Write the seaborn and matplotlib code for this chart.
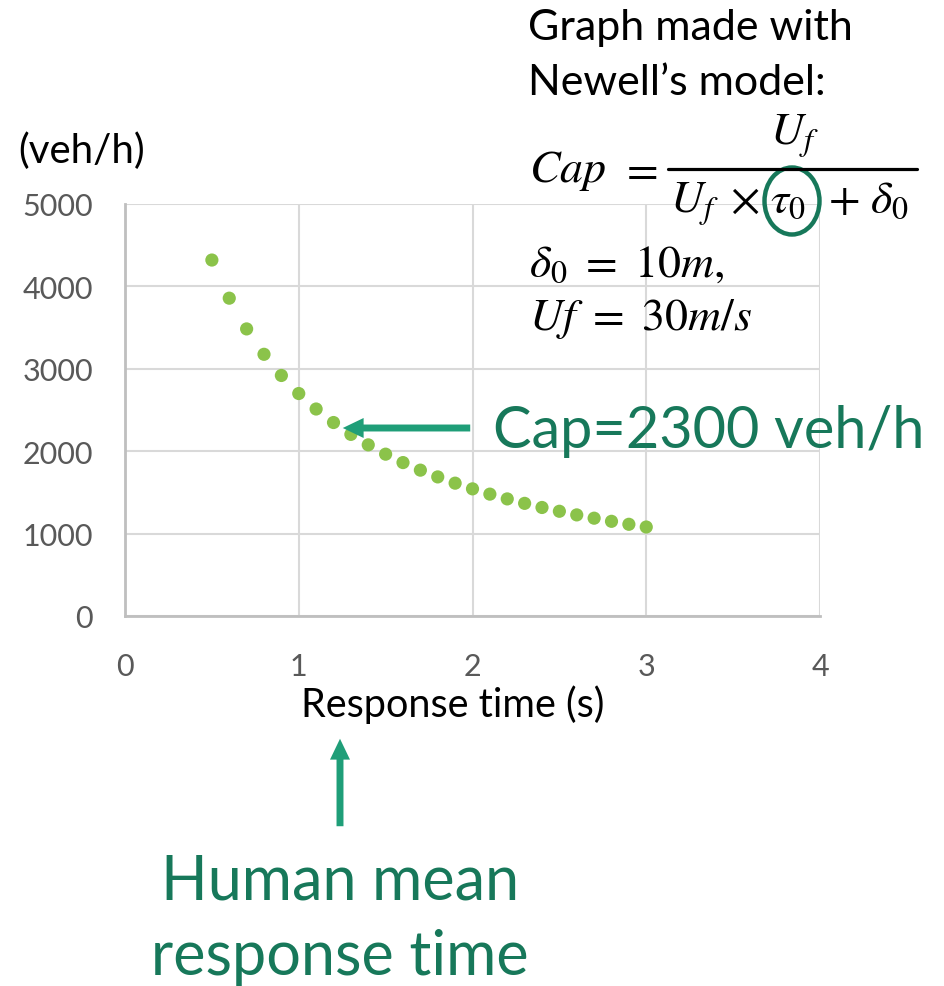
import matplotlib
matplotlib.use("Agg")
import matplotlib.pyplot as plt
import seaborn as sns
import pandas as pd
from matplotlib.patches import Ellipse, FancyArrowPatch
from matplotlib.lines import Line2D

# ---- data ----
response_time = [0.5, 0.6, 0.7, 0.8, 0.9, 1.0, 1.1, 1.2, 1.3, 1.4, 1.5, 1.6, 1.7,
                 1.8, 1.9, 2.0, 2.1, 2.2, 2.3, 2.4, 2.5, 2.6, 2.7, 2.8, 2.9, 3.0]
capacity = [4320, 3857, 3484, 3176, 2919, 2700, 2512, 2348, 2204, 2077, 1964, 1862, 1770,
            1688, 1612, 1543, 1479, 1421, 1367, 1317, 1271, 1227, 1187, 1149, 1113, 1080]
x_ticks = [0, 1, 2, 3, 4]
y_ticks = [0, 1000, 2000, 3000, 4000, 5000]

df = pd.DataFrame({"t": response_time, "cap": capacity})

sns.set_theme(style="whitegrid")
plt.rcParams['font.family'] = ['Lato', 'DejaVu Sans']
plt.rcParams['mathtext.fontset'] = 'stix'

W, H = 944, 987
fig = plt.figure(figsize=(W / 100, H / 100), dpi=100)
fig.patch.set_facecolor("white")

def fx(px):
    return px / W

def fy(py):
    return 1 - py / H

ax = fig.add_axes([fx(125), fy(617), fx(820) - fx(125), fy(205) - fy(617)])
ax.set_facecolor("white")
sns.scatterplot(data=df, x="t", y="cap", ax=ax, color="#8bc34a", s=90,
                edgecolor="none", zorder=3, clip_on=False)
ax.set_xlim(0, 4)
ax.set_ylim(0, 5000)
ax.set_xticks(x_ticks)
ax.set_yticks(y_ticks)
ax.grid(True, color="#d9d9d9", linewidth=1.5)
for s in ["top", "right"]:
    ax.spines[s].set_visible(False)
for s in ["left", "bottom"]:
    ax.spines[s].set_visible(True)
    ax.spines[s].set_color("#bfbfbf")
    ax.spines[s].set_linewidth(2)
ax.tick_params(axis="both", length=0, labelsize=22, labelcolor="#595959")
ax.tick_params(axis="x", pad=26)
ax.tick_params(axis="y", pad=23)
ax.set_xlabel("")
ax.set_ylabel("")

# axis titles
fig.text(fx(453), fy(717), "Response time (s)", ha="center", va="baseline",
         fontsize=28.5, color="black")
fig.text(fx(18), fy(163), "(veh/h)", ha="left", va="baseline",
         fontsize=29, color="black")

# model description
fig.text(fx(528), fy(40), "Graph made with", ha="left", va="baseline",
         fontsize=31, color="black")
fig.text(fx(528), fy(95), "Newell\u2019s model:", ha="left", va="baseline",
         fontsize=31, color="black")

MS = 33
def mt(x, y, s):
    fig.text(fx(x), fy(y), s, ha="left", va="baseline", fontsize=MS, color="black")

mt(529, 182, r"$Cap$")
mt(620, 182, r"$=$")
mt(770, 145, r"$U_f$")
fig.lines.append(Line2D([fx(668), fx(917)], [fy(170), fy(170)],
                        transform=fig.transFigure, color="black", linewidth=2.3))
mt(670, 213, r"$U_f$")
mt(730, 213, r"$\times$")
mt(770, 213, r"$\tau_0$")
mt(828, 213, r"$+$")
mt(870, 213, r"$\delta_0$")
mt(529, 277, r"$\delta_0\ =\ 10m,$")
mt(529, 330, r"$Uf\ =\ 30m/s$")

text_green = "#17785a"
arrow_color = "#1f9e78"

# circle around tau_0
circ = Ellipse((fx(792), fy(202)), width=fx(55), height=67 / H,
               transform=fig.transFigure, fill=False, edgecolor=text_green,
               linewidth=3.2)
fig.patches.append(circ)

# horizontal arrow to Cap point
a1 = FancyArrowPatch((fx(473), fy(429)), (fx(340), fy(429)),
                     transform=fig.transFigure,
                     arrowstyle="simple,head_length=0.75,head_width=0.72,tail_width=0.25",
                     mutation_scale=20, color=arrow_color, linewidth=0)
fig.patches.append(a1)
fig.text(fx(493), fy(448), "Cap=2300 veh/h", ha="left", va="baseline",
         fontsize=41.5, color=text_green)

# vertical arrow
a2 = FancyArrowPatch((fx(340), fy(830)), (fx(340), fy(737)),
                     transform=fig.transFigure,
                     arrowstyle="simple,head_length=0.75,head_width=0.72,tail_width=0.25",
                     mutation_scale=20, color=arrow_color, linewidth=0)
fig.patches.append(a2)
fig.text(fx(340), fy(900), "Human mean", ha="center", va="baseline",
         fontsize=44, color=text_green)
fig.text(fx(340), fy(975), "response time", ha="center", va="baseline",
         fontsize=44, color=text_green)

fig.savefig("out.png", dpi=100, facecolor="white")
